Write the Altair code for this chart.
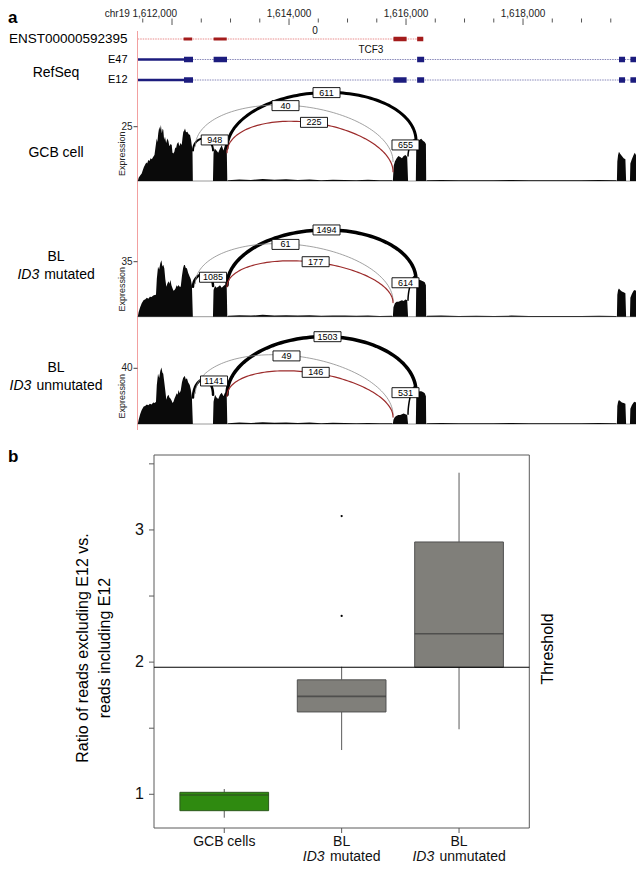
import numpy as np
import pandas as pd
import altair as alt

FONT = "Liberation Sans, Arial, Helvetica, sans-serif"

# ============================ DATA ============================
# ---- panel a: genomic ruler (chr19) ----
GENOME_DOMAIN = [1611410, 1620068]
RULER_TICKS = [1611500, 1612000, 1612500, 1613000, 1613500, 1614000, 1614500, 1615000, 1615500,
               1616000, 1616500, 1617000, 1617500, 1618000, 1618500, 1619000, 1619500, 1620000]
RULER_MAJOR = [1612000, 1614000, 1616000, 1618000]
RULER_LABELS = ["chr19 1,612,000", "1,614,000", "1,616,000", "1,618,000"]

# ---- transcript tracks ----
TRACK_ROWS = ["ENST00000592395", "E47", "E12"]
FEAT_ROW = ["ENST00000592395"] * 5 + ["E47"] * 7 + ["E12"] * 7
FEAT_KIND = ["intron", "utr", "utr", "exon", "exon",
             "intron", "utr", "exon", "exon", "exon", "exon", "exon",
             "intron", "utr", "exon", "exon", "exon", "exon", "exon"]
FEAT_START = [1611414, 1612198, 1612711, 1615785, 1616190,
              1612345, 1611414, 1612205, 1612711, 1616190, 1619641, 1619836,
              1612345, 1611414, 1612205, 1615785, 1616190, 1619641, 1619836]
FEAT_END = [1616295, 1612345, 1612935, 1616010, 1616295,
            1620068, 1612205, 1612359, 1612940, 1616310, 1619744, 1619976,
            1620068, 1612205, 1612359, 1616010, 1616310, 1619744, 1619976]
TRACK_SCORE_LABEL, TRACK_SCORE_POS = "0", 1614444
GENE_NAME, GENE_NAME_POS = "TCF3", 1615400

# ---- coverage (read depth) per sample: (position, depth) ----
COV_GCB = [
    (1611415, 0), (1611430, 1.5), (1611455, 2.5), (1611482, 3.5), (1611500, 5.0),
    (1611520, 6.5), (1611538, 7.4), (1611560, 8.5), (1611575, 8.0), (1611595, 9.7),
    (1611615, 9.2), (1611635, 10.5), (1611655, 10.0), (1611680, 11.2), (1611700, 12.0),
    (1611715, 15.0), (1611738, 19.6), (1611750, 18.0), (1611765, 22.0), (1611783, 25.0),
    (1611795, 23.5), (1611810, 25.8), (1611825, 22.0), (1611840, 24.0), (1611851, 23.5),
    (1611865, 19.0), (1611880, 20.4), (1611900, 17.5), (1611920, 19.6), (1611937, 18.5),
    (1611955, 16.0), (1611975, 17.0), (1611995, 16.6), (1612008, 13.0), (1612022, 12.7),
    (1612040, 13.5), (1612055, 15.5), (1612068, 15.0), (1612085, 17.0), (1612108, 18.0),
    (1612125, 16.0), (1612145, 17.5), (1612166, 16.6), (1612180, 20.0), (1612193, 22.7),
    (1612205, 23.0), (1612222, 24.2), (1612240, 22.5), (1612262, 22.7), (1612285, 21.5),
    (1612308, 21.2), (1612325, 19.0), (1612337, 16.6), (1612350, 14.0), (1612356, 0),
    (1612700, 0), (1612710, 13.0), (1612730, 15.0), (1612760, 14.0), (1612790, 13.0),
    (1612820, 15.0), (1612850, 16.5), (1612880, 14.0), (1612910, 17.0), (1612935, 16.0),
    (1612945, 0),
    (1612960, 0.4), (1613150, 0.7), (1613350, 0.5), (1613550, 0.9), (1613750, 0.6),
    (1613950, 0.8), (1614150, 0.5), (1614350, 0.7), (1614550, 0.4), (1614750, 0.6),
    (1614950, 0.5), (1615150, 0.4), (1615350, 0.6), (1615550, 0.3), (1615760, 0.4),
    (1615775, 0), (1615790, 7.0), (1615810, 9.0), (1615840, 10.5), (1615870, 11.5),
    (1615900, 11.0), (1615930, 10.5), (1615960, 11.5), (1615990, 12.0), (1616020, 11.0),
    (1616035, 0),
    (1616168, 0), (1616175, 16.0), (1616200, 18.0), (1616230, 19.0), (1616260, 19.5),
    (1616290, 18.5), (1616320, 18.0), (1616340, 17.0), (1616345, 0),
    (1616360, 0.4), (1616600, 0.5), (1616900, 0.3), (1617200, 0.4), (1617500, 0.3),
    (1617800, 0.5), (1618100, 0.3), (1618400, 0.4), (1618700, 0.3), (1619000, 0.4),
    (1619300, 0.5), (1619590, 0.3),
    (1619605, 0), (1619612, 9.0), (1619625, 12.0), (1619640, 13.5), (1619660, 12.5),
    (1619690, 11.5), (1619720, 10.5), (1619750, 10.0), (1619762, 0),
    (1619828, 0), (1619835, 8.0), (1619860, 10.0), (1619890, 12.0), (1619910, 13.0),
    (1619930, 12.0), (1619960, 11.0), (1619980, 10.0), (1619990, 0),
]
COV_BL_MUT = [
    (1611415, 0), (1611430, 3.0), (1611455, 6.0), (1611482, 8.5), (1611516, 10.6),
    (1611540, 11.0), (1611570, 12.0), (1611595, 11.5), (1611622, 12.7), (1611650, 12.5),
    (1611680, 13.5), (1611705, 13.8), (1611726, 14.0), (1611740, 24.0), (1611761, 31.8),
    (1611780, 30.0), (1611800, 34.0), (1611819, 36.0), (1611835, 32.0), (1611850, 33.0),
    (1611868, 30.8), (1611885, 24.0), (1611903, 19.0), (1611920, 21.0), (1611940, 22.5),
    (1611955, 21.0), (1611973, 23.4), (1611990, 20.0), (1612010, 18.0), (1612025, 16.5),
    (1612043, 17.0), (1612060, 18.0), (1612080, 20.0), (1612095, 19.0), (1612113, 20.2),
    (1612130, 19.0), (1612149, 19.0), (1612170, 26.0), (1612190, 31.0), (1612205, 32.9),
    (1612219, 32.9), (1612235, 31.0), (1612255, 30.8), (1612275, 28.0), (1612303, 25.5),
    (1612320, 24.0), (1612340, 20.0), (1612356, 0),
    (1612700, 0), (1612710, 17.0), (1612735, 19.5), (1612760, 18.5), (1612790, 19.0),
    (1612820, 20.0), (1612850, 18.5), (1612880, 19.5), (1612910, 20.5), (1612935, 19.0),
    (1612945, 0),
    (1612960, 0.6), (1613150, 1.0), (1613350, 0.7), (1613550, 1.2), (1613750, 0.8),
    (1613950, 1.0), (1614150, 0.7), (1614350, 0.9), (1614550, 0.6), (1614750, 0.8),
    (1614950, 0.7), (1615150, 0.6), (1615350, 0.8), (1615550, 0.5), (1615760, 0.6),
    (1615775, 0), (1615785, 6.0), (1615810, 8.5), (1615840, 9.5), (1615870, 9.5),
    (1615900, 10.0), (1615930, 10.5), (1615960, 10.0), (1615990, 11.0), (1616020, 10.5),
    (1616035, 0),
    (1616168, 0), (1616175, 20.0), (1616200, 22.5), (1616230, 23.5), (1616260, 23.0),
    (1616290, 22.5), (1616320, 22.0), (1616340, 20.0), (1616345, 0),
    (1616360, 0.6), (1616600, 0.7), (1616900, 0.5), (1617200, 0.6), (1617500, 0.4),
    (1617800, 0.7), (1618100, 0.4), (1618400, 0.5), (1618700, 0.4), (1619000, 0.5),
    (1619300, 0.6), (1619590, 0.4),
    (1619605, 0), (1619612, 14.0), (1619625, 17.0), (1619640, 18.0), (1619660, 17.0),
    (1619690, 16.0), (1619720, 15.5), (1619750, 15.0), (1619762, 0),
    (1619828, 0), (1619835, 12.0), (1619860, 14.5), (1619890, 16.5), (1619910, 17.0),
    (1619930, 16.5), (1619960, 15.5), (1619980, 14.5), (1619990, 0),
]
COV_BL_UNMUT = [
    (1611415, 0), (1611430, 3.0), (1611455, 7.0), (1611482, 10.0), (1611516, 12.5),
    (1611540, 13.0), (1611570, 14.0), (1611595, 13.5), (1611622, 14.5), (1611650, 14.0),
    (1611680, 15.5), (1611705, 15.0), (1611726, 16.0), (1611740, 28.0), (1611761, 36.0),
    (1611780, 33.0), (1611800, 38.0), (1611819, 40.5), (1611835, 37.0), (1611850, 36.0),
    (1611868, 30.0), (1611885, 24.0), (1611903, 17.5), (1611920, 20.0), (1611940, 21.0),
    (1611955, 19.0), (1611973, 18.4), (1611990, 17.0), (1612010, 15.0), (1612025, 16.0),
    (1612043, 18.4), (1612060, 20.0), (1612080, 22.0), (1612095, 21.0), (1612113, 24.4),
    (1612130, 22.0), (1612149, 24.0), (1612170, 30.0), (1612190, 33.0), (1612205, 34.0),
    (1612219, 34.5), (1612235, 32.0), (1612255, 32.8), (1612275, 30.0), (1612303, 28.0),
    (1612320, 25.0), (1612340, 19.0), (1612356, 0),
    (1612700, 0), (1612710, 16.0), (1612735, 21.0), (1612760, 19.0), (1612790, 18.0),
    (1612820, 21.0), (1612850, 22.5), (1612880, 20.0), (1612910, 23.0), (1612935, 21.0),
    (1612945, 0),
    (1612960, 0.6), (1613150, 1.0), (1613350, 0.8), (1613550, 1.2), (1613750, 0.9),
    (1613950, 1.1), (1614150, 0.7), (1614350, 1.0), (1614550, 0.6), (1614750, 0.9),
    (1614950, 0.7), (1615150, 0.6), (1615350, 0.8), (1615550, 0.5), (1615760, 0.6),
    (1615775, 0), (1615785, 3.0), (1615810, 5.0), (1615840, 6.0), (1615870, 6.5),
    (1615900, 6.5), (1615930, 7.0), (1615960, 7.5), (1615990, 7.0), (1616020, 6.5),
    (1616035, 0),
    (1616168, 0), (1616175, 20.0), (1616200, 22.5), (1616230, 23.5), (1616260, 23.5),
    (1616290, 23.0), (1616320, 22.0), (1616340, 20.0), (1616345, 0),
    (1616360, 0.6), (1616600, 0.7), (1616900, 0.5), (1617200, 0.6), (1617500, 0.5),
    (1617800, 0.7), (1618100, 0.5), (1618400, 0.6), (1618700, 0.5), (1619000, 0.6),
    (1619300, 0.7), (1619590, 0.5),
    (1619605, 0), (1619612, 13.0), (1619625, 16.0), (1619640, 17.2), (1619660, 16.5),
    (1619690, 15.5), (1619720, 15.0), (1619750, 14.5), (1619762, 0),
    (1619828, 0), (1619835, 11.0), (1619860, 13.5), (1619890, 15.5), (1619910, 16.0),
    (1619930, 15.5), (1619960, 14.5), (1619980, 13.5), (1619990, 0),
]

# ---- splice junctions (same order in every sample) ----
JUNC_TYPE = ["black", "black", "gray", "red", "black"]
JUNC_START = [1612359, 1612940, 1612400, 1612940, 1616034]
JUNC_END = [1612701, 1616171, 1615778, 1615778, 1616171]

JUNC_GCB_COUNT = ["948", "611", "40", "225", "655"]
JUNC_GCB_Y0 = [14, 15, 16, 13, 11.5]
JUNC_GCB_Y1 = [14, 18.5, 8.9, 4.3, 17]
JUNC_GCB_APEX = [19.5, 40.7, 34.7, 27.0, 18]
JUNC_GCB_LABX = [1612730, 1614641, 1613940, 1614427, 1615991]
JUNC_GCB_LABY = [18.9, 40.7, 34.7, 27.0, 16.6]
JUNC_GCB_W = [2, 3, 0.8, 1.2, 1.5]

JUNC_MUT_COUNT = ["1085", "1494", "61", "177", "614"]
JUNC_MUT_Y0 = [19, 20, 21, 19, 10.5]
JUNC_MUT_Y1 = [19.5, 23.4, 10, 9, 22]
JUNC_MUT_APEX = [27, 55.2, 46, 35, 23.5]
JUNC_MUT_LABX = [1612701, 1614641, 1613940, 1614455, 1615991]
JUNC_MUT_LABY = [25.1, 55.2, 46, 35, 21.6]
JUNC_MUT_W = [2.5, 3.5, 0.8, 1.2, 1.5]

JUNC_UNMUT_COUNT = ["1141", "1503", "49", "146", "531"]
JUNC_UNMUT_Y0 = [19, 21, 22, 20, 7]
JUNC_UNMUT_Y1 = [21, 23.2, 6.5, 5, 22]
JUNC_UNMUT_APEX = [32, 62.7, 48.9, 37.1, 24]
JUNC_UNMUT_LABX = [1612718, 1614658, 1613957, 1614456, 1615991]
JUNC_UNMUT_LABY = [30.9, 62.7, 48.9, 37.1, 22.5]
JUNC_UNMUT_W = [2.5, 3.5, 0.8, 1.2, 1.5]

PANEL_TICKS = [25, 35, 40]

# ---- panel b: box plot summary ----
BOX_GROUPS = ["GCB cells", "BL ID3 mutated", "BL ID3 unmutated"]
BOX_LO = [0.823, 1.335, 1.492]
BOX_Q1 = [0.876, 1.623, 1.961]
BOX_MED = [0.995, 1.741, 2.215]
BOX_Q3 = [1.015, 1.866, 2.909]
BOX_HI = [1.040, 1.965, 3.433]
OUTLIER_GROUP = ["BL ID3 mutated", "BL ID3 mutated"]
OUTLIER_VALUE = [2.349, 3.105]
THRESHOLD = 1.961
BOX_Y_TICKS = [1, 1.5, 2, 2.5, 3, 3.5]
BOX_Y_LABELS = ["1", "", "2", "", "3", ""]
BOX_LINE1 = ["GCB cells", "BL", "BL"]
BOX_Y_DOMAIN = [0.745, 3.567]

# ============================ STYLE / LAYOUT ============================
COL_ENST_EXON, COL_ENST_INTRON = "#a31b1b", "#e88c8c"
COL_REF_EXON, COL_REF_INTRON = "#1c1c7e", "#8585b8"
JUNC_COLORS = {"black": "#000000", "gray": "#8a8a8a", "red": "#9c2b2b"}

X_G = alt.Scale(domain=GENOME_DOMAIN, range=[129.5, 636], nice=False, zero=False)
ROW_Y = alt.Scale(type="point", domain=TRACK_ROWS, range=[31, 72], padding=0)
PANEL_RANGES = [[173, 118.7], [308.7, 253.7], [416, 360.3]]
BOX_X = alt.Scale(type="band", domain=BOX_GROUPS, range=[146, 521.3],
                  paddingInner=0.2445, paddingOuter=0.2207)
BOX_Y = alt.Scale(domain=BOX_Y_DOMAIN, range=[820, 447], nice=False, zero=False)
FRAME_L, FRAME_R = 146, 521.3

ONE = pd.DataFrame({"k": [0]})
RECT_PATH = "M-1,-0.37L1,-0.37L1,0.37L-1,0.37Z"


def gx(field="pos"):
    return alt.X(f"{field}:Q", scale=X_G, axis=None)


def txt(text, x, y, size=14, align="center", baseline="middle", angle=0,
        style="normal", weight="normal", color="#000000"):
    kw = dict(text=text, font=FONT, fontSize=size, align=align, baseline=baseline,
              fontStyle=style, fontWeight=weight, color=color)
    if angle:
        kw["angle"] = angle
    return alt.Chart(ONE).mark_text(**kw).encode(x=alt.value(x), y=alt.value(y))


layers = []

# ---------------- ruler ----------------
ruler = pd.DataFrame({"pos": RULER_TICKS})
ruler["major"] = ruler["pos"].isin(RULER_MAJOR)
layers.append(alt.Chart(ruler[~ruler.major]).mark_rule(color="#555555").encode(
    x=gx(), y=alt.value(10.5), y2=alt.value(14.5)))
layers.append(alt.Chart(ruler[ruler.major]).mark_rule(color="#555555").encode(
    x=gx(), y=alt.value(10.5), y2=alt.value(17)))
rl = pd.DataFrame({"pos": RULER_MAJOR, "lab": RULER_LABELS})
layers.append(alt.Chart(rl.iloc[:1]).mark_text(font=FONT, fontSize=10, align="right", dx=5,
                                                baseline="alphabetic", color="#222222").encode(
    x=gx(), y=alt.value(8.5), text="lab:N"))
layers.append(alt.Chart(rl.iloc[1:]).mark_text(font=FONT, fontSize=10, baseline="alphabetic",
                                               color="#222222").encode(
    x=gx(), y=alt.value(8.5), text="lab:N"))

# ---------------- transcripts ----------------
feat = pd.DataFrame({"row": FEAT_ROW, "kind": FEAT_KIND, "start": FEAT_START, "end": FEAT_END})
is_enst = feat["row"] == TRACK_ROWS[0]
feat["col"] = np.where(feat["kind"] == "intron",
                       np.where(is_enst, COL_ENST_INTRON, COL_REF_INTRON),
                       np.where(is_enst, COL_ENST_EXON, COL_REF_EXON))
width_map_enst = {"intron": 1.0, "utr": 3.0, "exon": 4.5}
width_map_ref = {"intron": 1.0, "utr": 2.6, "exon": 5.5}
feat["w"] = [width_map_enst[k] if e else width_map_ref[k] for k, e in zip(feat["kind"], is_enst)]
enc_feat = dict(x=alt.X("start:Q", scale=X_G, axis=None), x2="end:Q",
                y=alt.Y("row:N", scale=ROW_Y, axis=None),
                color=alt.Color("col:N", scale=None), size=alt.Size("w:Q", scale=None))
layers.append(alt.Chart(feat[feat.kind == "intron"]).mark_rule(strokeDash=[1.5, 1]).encode(**enc_feat))
layers.append(alt.Chart(feat[feat.kind != "intron"]).mark_rule(strokeCap="butt").encode(**enc_feat))

rows_df = pd.DataFrame({"row": TRACK_ROWS})
layers.append(alt.Chart(rows_df.iloc[:1]).mark_text(font=FONT, fontSize=13.5, align="right").encode(
    x=alt.value(119.5), y=alt.Y("row:N", scale=ROW_Y, axis=None), text="row:N"))
layers.append(alt.Chart(rows_df.iloc[1:]).mark_text(font=FONT, fontSize=11, align="right").encode(
    x=alt.value(119.5), y=alt.Y("row:N", scale=ROW_Y, axis=None), text="row:N"))
ann = pd.DataFrame({"pos": [TRACK_SCORE_POS, GENE_NAME_POS], "lab": [TRACK_SCORE_LABEL, GENE_NAME],
                    "yy": [23, 42]})
layers.append(alt.Chart(ann).mark_text(font=FONT, fontSize=10, color="#111111").encode(
    x=gx(), y=alt.Y("yy:Q", scale=None), text="lab:N"))
layers.append(txt("RefSeq", 48, 65, size=14))

# red border of the track area
layers.append(alt.Chart(ONE).mark_rule(color="#f2a0a0", strokeWidth=1).encode(
    x=alt.value(129.5), y=alt.value(23), y2=alt.value(422)))


# ---------------- sashimi panels ----------------
def arc_frame(counts, y0s, y1s, apexes, widths):
    rows = []
    t = np.linspace(0, np.pi, 90)
    for j, (s, e, a0, a1, ap, typ, w) in enumerate(zip(JUNC_START, JUNC_END, y0s, y1s, apexes,
                                                      JUNC_TYPE, widths)):
        frac = (1 - np.cos(t)) / 2
        xs = s + (e - s) * frac
        base = a0 + (a1 - a0) * frac
        ys = base + (ap - (a0 + a1) / 2) * np.sin(t)
        for k in range(len(t)):
            rows.append({"jid": counts[j], "t": k, "x": xs[k], "y": ys[k],
                         "col": JUNC_COLORS[typ], "w": w})
    return pd.DataFrame(rows)


panels = [
    (COV_GCB, JUNC_GCB_COUNT, JUNC_GCB_Y0, JUNC_GCB_Y1, JUNC_GCB_APEX, JUNC_GCB_LABX, JUNC_GCB_LABY, JUNC_GCB_W),
    (COV_BL_MUT, JUNC_MUT_COUNT, JUNC_MUT_Y0, JUNC_MUT_Y1, JUNC_MUT_APEX, JUNC_MUT_LABX, JUNC_MUT_LABY, JUNC_MUT_W),
    (COV_BL_UNMUT, JUNC_UNMUT_COUNT, JUNC_UNMUT_Y0, JUNC_UNMUT_Y1, JUNC_UNMUT_APEX, JUNC_UNMUT_LABX, JUNC_UNMUT_LABY, JUNC_UNMUT_W),
]

for i, (cov, counts, y0s, y1s, apexes, labx, laby, widths) in enumerate(panels):
    tick = PANEL_TICKS[i]
    ys = alt.Scale(domain=[0, tick], range=PANEL_RANGES[i], nice=False, zero=False)
    base_df = pd.DataFrame({"a": [GENOME_DOMAIN[0]], "b": [GENOME_DOMAIN[1]], "z": [0]})
    layers.append(alt.Chart(base_df).mark_rule(color="#9a9a9a", strokeWidth=1).encode(
        x=alt.X("a:Q", scale=X_G, axis=None), x2="b:Q", y=alt.Y("z:Q", scale=ys, axis=None)))
    cov_df = pd.DataFrame(cov, columns=["pos", "val"])
    layers.append(alt.Chart(cov_df).mark_area(color="#0a0a0a", interpolate="linear").encode(
        x=gx(), y=alt.Y("val:Q", scale=ys, axis=None, stack=None)))
    arcs = arc_frame(counts, y0s, y1s, apexes, widths)
    layers.append(alt.Chart(arcs).mark_line(strokeCap="round").encode(
        x=alt.X("x:Q", scale=X_G, axis=None), y=alt.Y("y:Q", scale=ys, axis=None),
        detail="jid:N", order="t:Q", color=alt.Color("col:N", scale=None),
        size=alt.Size("w:Q", scale=None)))
    lab_df = pd.DataFrame({"lx": labx, "ly": laby, "count": counts})
    layers.append(alt.Chart(lab_df).mark_point(shape=RECT_PATH, size=729, filled=True, fill="#ffffff",
                                                stroke="#000000", strokeWidth=0.9, opacity=1).encode(
        x=alt.X("lx:Q", scale=X_G, axis=None), y=alt.Y("ly:Q", scale=ys, axis=None)))
    layers.append(alt.Chart(lab_df).mark_text(font=FONT, fontSize=9, color="#000000").encode(
        x=alt.X("lx:Q", scale=X_G, axis=None), y=alt.Y("ly:Q", scale=ys, axis=None), text="count:N"))
    tk = pd.DataFrame({"v": [tick], "lab": [str(tick)], "h": [tick / 2]})
    layers.append(alt.Chart(tk).mark_rule(color="#444444").encode(
        x=alt.value(125.5), x2=alt.value(129.5), y=alt.Y("v:Q", scale=ys, axis=None)))
    layers.append(alt.Chart(tk).mark_text(font=FONT, fontSize=10, align="right", color="#222222").encode(
        x=alt.value(124.5), y=alt.Y("v:Q", scale=ys, axis=None), text="lab:N"))
    layers.append(alt.Chart(tk).mark_text(font=FONT, fontSize=9, angle=270, color="#222222").encode(
        x=alt.value(114), y=alt.Y("h:Q", scale=ys, axis=None), text=alt.value("Expression")))

# sample labels (left)
layers.append(txt("GCB cell", 48, 145))
layers.append(txt("BL", 48, 249))
layers.append(txt("ID3", 31.2, 267, align="right", style="italic"))
layers.append(txt("mutated", 36.2, 267, align="left"))
layers.append(txt("BL", 48, 360))
layers.append(txt("ID3", 23.4, 378, align="right", style="italic"))
layers.append(txt("unmutated", 28.4, 378, align="left"))

# ---------------- box plot ----------------
box = pd.DataFrame({"grp": BOX_GROUPS, "lo": BOX_LO, "q1": BOX_Q1, "med": BOX_MED,
                    "q3": BOX_Q3, "hi": BOX_HI, "line1": BOX_LINE1})
box["fill"] = ["#2f8a10", "#807f7a", "#807f7a"]
box["edge"] = ["#2c5a1c", "#505050", "#505050"]
box["medc"] = ["#2d4a22", "#3a3a3a", "#3a3a3a"]
bx = alt.X("grp:N", scale=BOX_X, axis=None)

frame_df = pd.DataFrame({"lo": [BOX_Y_DOMAIN[0]], "hi": [BOX_Y_DOMAIN[1]]})
layers.append(alt.Chart(frame_df).mark_rect(fillOpacity=0, stroke="#5a5a5a", strokeWidth=1).encode(
    x=alt.value(FRAME_L), x2=alt.value(FRAME_R), y=alt.Y("lo:Q", scale=BOX_Y, axis=None), y2="hi:Q"))
layers.append(alt.Chart(box).mark_rule(color="#5a5a5a", strokeWidth=1).encode(
    x=bx, y=alt.Y("q3:Q", scale=BOX_Y, axis=None), y2="hi:Q"))
layers.append(alt.Chart(box).mark_rule(color="#5a5a5a", strokeWidth=1).encode(
    x=bx, y=alt.Y("lo:Q", scale=BOX_Y, axis=None), y2="q1:Q"))
layers.append(alt.Chart(box).mark_bar(strokeWidth=1).encode(
    x=bx, y=alt.Y("q1:Q", scale=BOX_Y, axis=None), y2="q3:Q",
    color=alt.Color("fill:N", scale=None), stroke=alt.Stroke("edge:N", scale=None)))
layers.append(alt.Chart(box).mark_tick(orient="horizontal", size=88.7, thickness=1.6).encode(
    x=bx, y=alt.Y("med:Q", scale=BOX_Y, axis=None), color=alt.Color("medc:N", scale=None)))
out_df = pd.DataFrame({"grp": OUTLIER_GROUP, "v": OUTLIER_VALUE})
layers.append(alt.Chart(out_df).mark_circle(size=5, color="#000000", opacity=1).encode(
    x=bx, y=alt.Y("v:Q", scale=BOX_Y, axis=None)))
thr = pd.DataFrame({"v": [THRESHOLD]})
layers.append(alt.Chart(thr).mark_rule(color="#000000", strokeWidth=1.2).encode(
    x=alt.value(FRAME_L), x2=alt.value(FRAME_R), y=alt.Y("v:Q", scale=BOX_Y, axis=None)))
yt = pd.DataFrame({"v": BOX_Y_TICKS, "lab": BOX_Y_LABELS})
layers.append(alt.Chart(yt).mark_rule(color="#5a5a5a").encode(
    x=alt.value(141), x2=alt.value(FRAME_L), y=alt.Y("v:Q", scale=BOX_Y, axis=None)))
layers.append(alt.Chart(yt[yt.lab != ""]).mark_text(font=FONT, fontSize=16, align="right", color="#111111").encode(
    x=alt.value(136), y=alt.Y("v:Q", scale=BOX_Y, axis=None), text="lab:N"))
layers.append(alt.Chart(box).mark_rule(color="#5a5a5a").encode(
    x=bx, y=alt.value(820), y2=alt.value(825)))
layers.append(alt.Chart(box).mark_text(font=FONT, fontSize=14, color="#111111").encode(
    x=bx, y=alt.value(833.5), text="line1:N"))
for g, dxi, dxr, word in [(BOX_GROUPS[1], -17.0, -11.7, "mutated"), (BOX_GROUPS[2], -24.8, -19.5, "unmutated")]:
    one = pd.DataFrame({"grp": [g]})
    layers.append(alt.Chart(one).mark_text(font=FONT, fontSize=14, fontStyle="italic", align="right",
                                           dx=dxi, text="ID3", color="#111111").encode(x=bx, y=alt.value(849)))
    layers.append(alt.Chart(one).mark_text(font=FONT, fontSize=14, align="left",
                                           dx=dxr, text=word, color="#111111").encode(x=bx, y=alt.value(849)))

layers.append(txt("Ratio of reads excluding E12 vs.", 75, 640, size=16, angle=270))
layers.append(txt("reads including E12", 97, 640, size=16, angle=270))
layers.append(txt("Threshold", 540, 641, size=16, angle=270))

# panel letters
layers.append(txt("a", 0, 2, size=17, align="left", baseline="top", weight="bold"))
layers.append(txt("b", 0, 454, size=17, align="left", baseline="alphabetic", weight="bold"))

chart = alt.layer(*layers).resolve_scale(x="independent", y="independent").properties(
    width=628, height=858, autosize="none", padding=0, background="#ffffff"
).configure_view(strokeWidth=0)

chart.save("out.html", embed_options={"renderer": "svg", "actions": False})
